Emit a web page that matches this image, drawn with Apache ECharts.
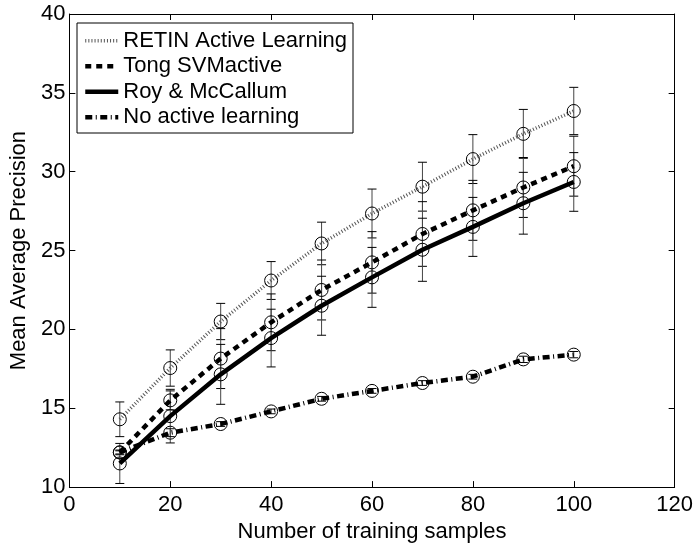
<!DOCTYPE html>
<html>
<head>
<meta charset="utf-8">
<script src="https://cdn.jsdelivr.net/npm/echarts@6/dist/echarts.min.js"></script>
<style>
  html, body { margin: 0; padding: 0; background: #fff; }
  #chart { width: 696px; height: 548px; }
</style>
</head>
<body>
<div id="chart"></div>
<script>
// Training set sizes
const samples = [10, 20, 30, 40, 50, 60, 70, 80, 90, 100];

// Mean average precision and error-bar half widths per method
const retin      = [14.3, 17.55, 20.5, 23.1, 25.45, 27.35, 29.05, 30.8, 32.4, 33.85];
const retinErr   = [1.1, 1.15, 1.15, 1.2, 1.35, 1.55, 1.55, 1.55, 1.55, 1.5];
const tong       = [12.2, 15.5, 18.15, 20.45, 22.5, 24.25, 26.05, 27.55, 29.0, 30.35];
const tongErr    = [0.1, 0.6, 1.9, 1.8, 1.9, 1.95, 2.05, 1.9, 1.9, 1.9];
const roy        = [11.5, 14.5, 17.15, 19.45, 21.5, 23.3, 25.05, 26.5, 28.0, 29.35];
const royErr     = [1.27, 1.7, 1.9, 1.83, 1.87, 1.9, 2.0, 1.87, 1.96, 1.86];
const noActive   = [12.2, 13.45, 14.0, 14.8, 15.6, 16.1, 16.6, 17.0, 18.1, 18.4];
const noActiveErr= [0.15, 0.25, 0.15, 0.15, 0.15, 0.15, 0.15, 0.15, 0.2, 0.2];

const seriesNames = ['RETIN Active Learning', 'Tong SVMactive', 'Roy & McCallum', 'No active learning'];

const xTicks = { min: 0, max: 120, step: 20 };
const yTicks = { min: 10, max: 40, step: 5 };

const FONT = 'Liberation Sans, Arial, Helvetica, sans-serif';

function pairs(ys) { return samples.map((x, i) => [x, ys[i]]); }
function ranges(ys, err) { return samples.map((x, i) => [x, ys[i] - err[i], ys[i] + err[i]]); }

// Vertical error bar with short caps at both ends
function errorBarSeries(ys, err) {
  return {
    type: 'custom',
    silent: true,
    z: 1,
    data: ranges(ys, err),
    renderItem: function (params, api) {
      const x = api.value(0);
      const lo = api.coord([x, api.value(1)]);
      const hi = api.coord([x, api.value(2)]);
      const cap = 4.5;
      const stem = { stroke: '#444', lineWidth: 1 };
      const capStyle = { stroke: '#000', lineWidth: 1 };
      return {
        type: 'group',
        children: [
          { type: 'line', shape: { x1: lo[0], y1: lo[1], x2: hi[0], y2: hi[1] }, style: stem },
          { type: 'line', shape: { x1: lo[0] - cap, y1: lo[1], x2: lo[0] + cap, y2: lo[1] }, style: capStyle },
          { type: 'line', shape: { x1: hi[0] - cap, y1: hi[1], x2: hi[0] + cap, y2: hi[1] }, style: capStyle }
        ]
      };
    }
  };
}

function lineSeries(name, ys, lineStyle) {
  return {
    name: name,
    type: 'line',
    z: 3,
    data: pairs(ys),
    symbol: 'circle',
    symbolSize: 13,
    itemStyle: { color: 'transparent', borderColor: '#000', borderWidth: 1 },
    lineStyle: lineStyle,
    emphasis: { disabled: true },
    animation: false
  };
}

const chart = echarts.init(document.getElementById('chart'), null, { renderer: 'canvas' });

const axisCommon = {
  axisLine: { show: true, onZero: false, lineStyle: { color: '#000', width: 1 } },
  axisTick: { show: true, inside: true, length: 6, lineStyle: { color: '#000', width: 1 } },
  splitLine: { show: false }
};

chart.setOption({
  animation: false,
  backgroundColor: '#fff',
  textStyle: { fontFamily: FONT },
  grid: { left: 66, right: 19, top: 14, bottom: 54, containLabel: false },
  xAxis: [
    Object.assign({
      type: 'value', min: xTicks.min, max: xTicks.max, interval: xTicks.step,
      name: 'Number of training samples', nameLocation: 'middle', nameGap: 31,
      nameTextStyle: { fontSize: 22, color: '#000', fontFamily: FONT },
      axisLabel: { fontSize: 22, color: '#000', margin: 7, fontFamily: FONT }
    }, axisCommon),
    Object.assign({
      type: 'value', position: 'top', min: xTicks.min, max: xTicks.max, interval: xTicks.step,
      axisLabel: { show: false }
    }, axisCommon)
  ],
  yAxis: [
    Object.assign({
      type: 'value', min: yTicks.min, max: yTicks.max, interval: yTicks.step,
      name: 'Mean Average Precision', nameLocation: 'middle', nameGap: 32,
      nameTextStyle: { fontSize: 22, color: '#000', fontFamily: FONT },
      axisLabel: { fontSize: 22, color: '#000', margin: 4, fontFamily: FONT }
    }, axisCommon),
    Object.assign({
      type: 'value', position: 'right', min: yTicks.min, max: yTicks.max, interval: yTicks.step,
      axisLabel: { show: false }
    }, axisCommon)
  ],
  legend: {
    data: seriesNames,
    orient: 'vertical',
    left: 77,
    top: 23,
    padding: [5, 6, 3, 6],
    itemGap: 0,
    itemWidth: 33,
    itemHeight: 14,
    selectedMode: false,
    backgroundColor: '#fff',
    borderColor: '#000',
    borderWidth: 1,
    borderRadius: 0,
    textStyle: { fontSize: 22, color: '#000', fontFamily: FONT, lineHeight: 25.5 },
    itemStyle: { color: 'transparent', borderColor: 'transparent', borderWidth: 0 },
    lineStyle: { width: 'inherit' }
  },
  series: [
    errorBarSeries(retin, retinErr),
    errorBarSeries(tong, tongErr),
    errorBarSeries(roy, royErr),
    errorBarSeries(noActive, noActiveErr),
    lineSeries(seriesNames[0], retin, { color: '#555', width: 3.5, type: [1, 2.1], cap: 'butt' }),
    lineSeries(seriesNames[1], tong, { color: '#000', width: 4.5, type: [6, 5], cap: 'butt' }),
    lineSeries(seriesNames[2], roy, { color: '#000', width: 4.5, type: 'solid' }),
    lineSeries(seriesNames[3], noActive, { color: '#000', width: 4.5, type: [7, 3.5, 1, 3.5], cap: 'butt' })
  ]
});
</script>
</body>
</html>
